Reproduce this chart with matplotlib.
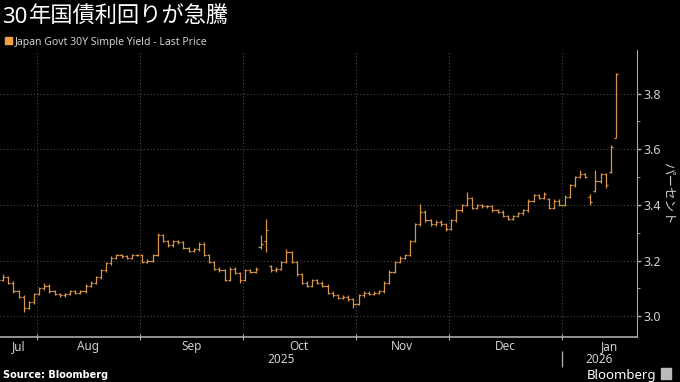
import matplotlib
matplotlib.use("Agg")
import matplotlib.pyplot as plt
from matplotlib.patches import Rectangle
import pandas as pd
import numpy as np

plt.rcParams['font.family'] = ['Noto Sans CJK JP', 'DejaVu Sans']

# Japanese trading days shown on the chart
holidays = ['2025-08-11', '2025-09-15', '2025-09-23', '2025-10-13', '2025-11-03',
            '2025-11-24', '2025-12-31', '2026-01-01', '2026-01-02', '2026-01-12']
dates = pd.bdate_range('2025-07-22', '2026-01-20')
dates = dates[~dates.isin(pd.to_datetime(holidays))]

# Japan Govt 30Y yield, daily OHLC
opens = [3.12, 3.13, 3.14, 3.12, 3.09, 3.07, 3.03, 3.05, 3.08, 3.10,
         3.11, 3.09, 3.08, 3.075, 3.08, 3.09, 3.085, 3.09, 3.11, 3.12,
         3.14, 3.165, 3.19, 3.21, 3.22, 3.215, 3.21, 3.22, 3.22, 3.195,
         3.20, 3.22, 3.29, 3.27, 3.255, 3.27, 3.265, 3.245, 3.235, 3.24,
         3.26, 3.22, 3.195, 3.17, 3.165, 3.13, 3.17, 3.155, 3.13, 3.165,
         3.16, 3.25, 3.27, 3.18, 3.165, 3.17, 3.195, 3.23, 3.195, 3.15,
         3.12, 3.11, 3.13, 3.12, 3.11, 3.085, 3.075, 3.065, 3.07, 3.06,
         3.045, 3.075, 3.085, 3.08, 3.085, 3.09, 3.12, 3.16, 3.195, 3.21,
         3.22, 3.27, 3.33, 3.375, 3.345, 3.33, 3.34, 3.33, 3.315, 3.345,
         3.38, 3.40, 3.425, 3.39, 3.40, 3.395, 3.395, 3.38, 3.375, 3.36,
         3.35, 3.36, 3.37, 3.38, 3.415, 3.435, 3.425, 3.42, 3.39, 3.415,
         3.40, 3.43, 3.47, 3.50, 3.51, 3.43, 3.45, 3.485, 3.51, 3.52, 3.64]
highs = [3.135, 3.15, 3.145, 3.125, 3.095, 3.075, 3.055, 3.085, 3.105, 3.12,
         3.115, 3.095, 3.085, 3.085, 3.095, 3.095, 3.095, 3.115, 3.125, 3.145,
         3.17, 3.195, 3.215, 3.225, 3.225, 3.22, 3.225, 3.225, 3.225, 3.205,
         3.225, 3.30, 3.295, 3.275, 3.275, 3.275, 3.27, 3.25, 3.245, 3.265,
         3.265, 3.225, 3.20, 3.175, 3.17, 3.175, 3.175, 3.16, 3.17, 3.17,
         3.175, 3.29, 3.35, 3.185, 3.175, 3.20, 3.24, 3.235, 3.20, 3.155,
         3.125, 3.135, 3.135, 3.125, 3.115, 3.09, 3.08, 3.075, 3.075, 3.065,
         3.08, 3.09, 3.09, 3.09, 3.095, 3.125, 3.165, 3.20, 3.215, 3.225,
         3.275, 3.335, 3.405, 3.38, 3.35, 3.345, 3.345, 3.335, 3.35, 3.385,
         3.405, 3.445, 3.43, 3.405, 3.405, 3.40, 3.40, 3.385, 3.38, 3.365,
         3.365, 3.375, 3.385, 3.42, 3.44, 3.44, 3.445, 3.425, 3.42, 3.42,
         3.435, 3.475, 3.505, 3.525, 3.515, 3.44, 3.525, 3.515, 3.515, 3.615, 3.875]
lows = [3.10, 3.125, 3.115, 3.085, 3.065, 3.015, 3.025, 3.045, 3.075, 3.095,
        3.085, 3.075, 3.07, 3.07, 3.075, 3.08, 3.08, 3.085, 3.105, 3.115,
        3.135, 3.16, 3.185, 3.205, 3.21, 3.205, 3.205, 3.215, 3.19, 3.19,
        3.195, 3.215, 3.265, 3.25, 3.25, 3.26, 3.24, 3.23, 3.23, 3.235,
        3.215, 3.19, 3.165, 3.16, 3.125, 3.125, 3.15, 3.12, 3.125, 3.155,
        3.155, 3.24, 3.23, 3.16, 3.16, 3.165, 3.19, 3.19, 3.145, 3.115,
        3.105, 3.105, 3.115, 3.105, 3.08, 3.07, 3.06, 3.06, 3.055, 3.03,
        3.04, 3.07, 3.075, 3.075, 3.08, 3.085, 3.115, 3.155, 3.19, 3.205,
        3.215, 3.265, 3.325, 3.34, 3.325, 3.325, 3.325, 3.305, 3.31, 3.34,
        3.375, 3.395, 3.385, 3.385, 3.39, 3.39, 3.375, 3.37, 3.355, 3.345,
        3.345, 3.355, 3.365, 3.375, 3.41, 3.42, 3.42, 3.385, 3.385, 3.395,
        3.395, 3.425, 3.465, 3.495, 3.495, 3.40, 3.445, 3.48, 3.46, 3.515, 3.64]
closes = [3.13, 3.14, 3.12, 3.09, 3.07, 3.03, 3.05, 3.08, 3.10, 3.11,
          3.09, 3.08, 3.075, 3.08, 3.09, 3.085, 3.09, 3.11, 3.12, 3.14,
          3.165, 3.19, 3.21, 3.22, 3.215, 3.21, 3.22, 3.22, 3.195, 3.20,
          3.22, 3.29, 3.27, 3.255, 3.27, 3.265, 3.245, 3.235, 3.24, 3.26,
          3.22, 3.195, 3.17, 3.165, 3.13, 3.17, 3.155, 3.13, 3.165, 3.16,
          3.17, 3.26, 3.31, 3.165, 3.17, 3.195, 3.23, 3.195, 3.15, 3.12,
          3.11, 3.13, 3.12, 3.11, 3.085, 3.075, 3.065, 3.07, 3.06, 3.045,
          3.075, 3.085, 3.08, 3.085, 3.09, 3.12, 3.16, 3.195, 3.21, 3.22,
          3.27, 3.33, 3.375, 3.345, 3.33, 3.34, 3.33, 3.315, 3.345, 3.38,
          3.40, 3.425, 3.39, 3.40, 3.395, 3.395, 3.38, 3.375, 3.36, 3.35,
          3.36, 3.37, 3.38, 3.415, 3.435, 3.425, 3.44, 3.39, 3.415, 3.40,
          3.43, 3.47, 3.50, 3.51, 3.50, 3.41, 3.485, 3.51, 3.47, 3.61, 3.87]

month_names = ['Jul', 'Aug', 'Sep', 'Oct', 'Nov', 'Dec', 'Jan']
y_ticks = [3.0, 3.2, 3.4, 3.6, 3.8]

bg = 'black'
bar_color = '#d8954a'
text_color = '#d0d0d0'

fig = plt.figure(figsize=(6.8, 3.82), dpi=100, facecolor=bg)
ax = fig.add_axes([0, 1 - 337 / 382, 637 / 680, 287 / 382], facecolor=bg)

x = np.arange(len(dates))
w = 0.42
ax.vlines(x, lows, highs, color=bar_color, lw=0.9)
ax.hlines(opens, x - w, x, color=bar_color, lw=0.9)
ax.hlines(closes, x, x + w, color=bar_color, lw=0.9)

ax.set_xlim(0.39, 124.07)
ax.set_ylim(2.925, 3.957)

# month boundaries -> ticks and grid; labels in the middle of each month
months = dates.to_period('M')
starts = [i for i in range(1, len(dates)) if months[i] != months[i - 1]]
bounds = [s - 0.5 for s in starts]
edges = [ax.get_xlim()[0]] + bounds + [ax.get_xlim()[1] + 4]
mids = [(a + b) / 2 for a, b in zip(edges[:-1], edges[1:])]

ax.set_xticks(bounds)
ax.set_xticklabels([])
ax.set_xticks(mids, minor=True)
ax.set_xticklabels(month_names, minor=True)
ax.tick_params(axis='x', which='major', direction='inout', length=5, color='#aaaaaa')
ax.tick_params(axis='x', which='minor', length=0, pad=2, labelsize=8.5,
               labelcolor=text_color)
for lbl in ax.get_xticklabels(minor=True):
    lbl.set_family('Noto Sans')

ax.yaxis.tick_right()
ax.set_yticks(y_ticks)
ax.set_yticklabels([f'{v:.1f}' for v in y_ticks])
ax.yaxis.set_minor_locator(plt.FixedLocator([3.1, 3.3, 3.5, 3.7]))
ax.tick_params(axis='y', which='major', direction='out', length=3, width=1,
               color='#aaaaaa', labelsize=9, labelcolor=text_color, pad=2)
ax.tick_params(axis='y', which='minor', direction='out', length=2, color='#aaaaaa')
for lbl in ax.get_yticklabels():
    lbl.set_family('Noto Sans')

ax.grid(True, which='major', color='#4a4a4a', ls=(0, (1, 2)), lw=0.8)
for side in ['top', 'left']:
    ax.spines[side].set_visible(False)
ax.spines['right'].set_color('#aaaaaa')
ax.spines['bottom'].set_color('#aaaaaa')
ax.spines['bottom'].set_linewidth(1.2)

# year labels and separator
xt = ax.get_xaxis_transform()
ax.text((ax.get_xlim()[0] + bounds[-1]) / 2, -0.08, '2025', transform=xt,
        ha='center', va='center', color=text_color, fontsize=8.5, family='Noto Sans')
ax.text((bounds[-1] + ax.get_xlim()[1]) / 2, -0.08, '2026', transform=xt,
        ha='center', va='center', color=text_color, fontsize=8.5, family='Noto Sans')
ax.vlines(bounds[-1], -0.05, -0.105, transform=xt, color='#aaaaaa', lw=1, clip_on=False)

ax.text(668 / 637, 0.5, 'パーセント', transform=ax.transAxes, rotation=270,
        ha='center', va='center', color=text_color, fontsize=9)

# title
renderer = fig.canvas.get_renderer()
t = fig.text(0.003, 1 - 23 / 382, '30', color='white', fontsize=16,
             weight='bold', family='Noto Sans', va='baseline')
x1 = t.get_window_extent(renderer).x1 / fig.bbox.width
fig.text(x1 + 0.002, 1 - 23 / 382, '年国債利回りが急騰', color='white', fontsize=16,
         va='baseline')

# legend
fig.patches.append(Rectangle((5 / 680, 1 - 44 / 382), 7 / 680, 7 / 382,
                             transform=fig.transFigure, color='#f5a040'))
fig.text(15 / 680, 1 - 45 / 382, 'Japan Govt 30Y Simple Yield - Last Price',
         color=text_color, fontsize=7.5, family='Noto Sans', va='baseline')

# footer
fig.text(3 / 680, 1 - 378 / 382, 'Source: Bloomberg', color='white', fontsize=7,
         weight='bold', family='DejaVu Sans', va='baseline')
fig.text(656 / 680, 1 - 379 / 382, 'Bloomberg', color='white', fontsize=9.5,
         weight='bold', family='Noto Sans', va='baseline', ha='right')
fig.patches.append(Rectangle((661 / 680, 1 - 379 / 382), 10 / 680, 11 / 382,
                             transform=fig.transFigure, color='#bbbbbb'))

fig.savefig('out.png', dpi=100, facecolor=bg)
